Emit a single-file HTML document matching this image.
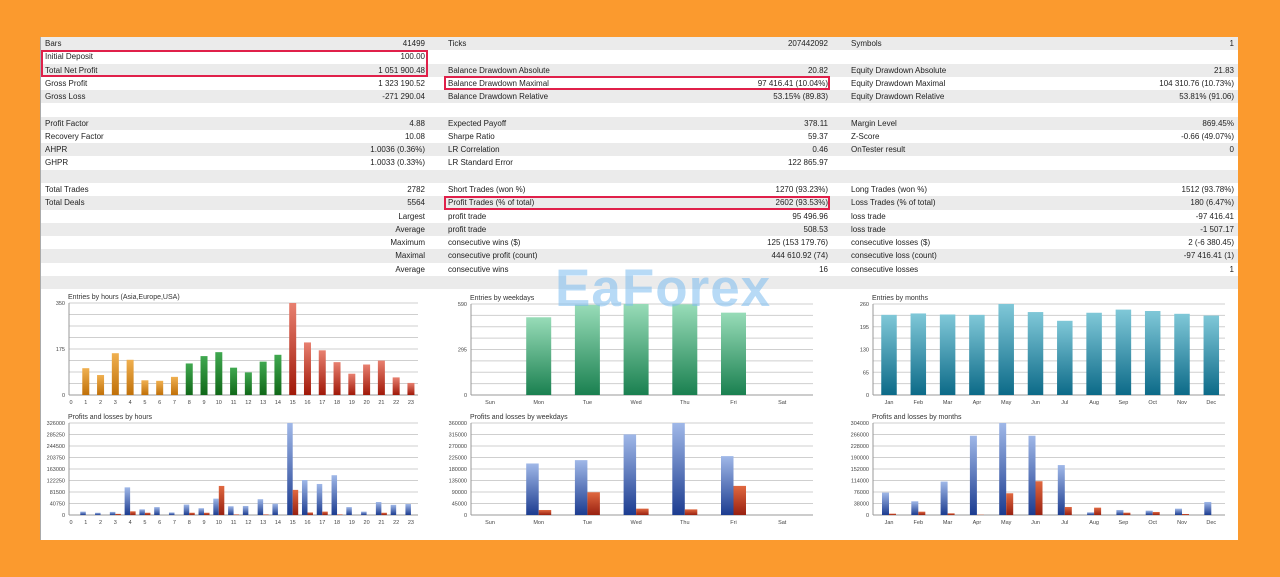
<!DOCTYPE html>
<html><head><meta charset="utf-8"><style>
html,body{margin:0;padding:0}
body{width:1280px;height:577px;background:#fb9a2e;position:relative;overflow:hidden;font-family:"Liberation Sans",sans-serif}
#panel{position:absolute;left:40px;top:37px;width:1197px;height:503px;background:#fff;border-left:1px solid #aaa}
.row{position:absolute;left:0;width:1197px;height:13.27px;font-size:8px;color:#222}
.row.g{background:#ebebeb}
.c{position:absolute;top:2px;white-space:nowrap}
.box{position:absolute;border:2px solid #e0204a;box-sizing:border-box}
svg text{font-family:"Liberation Sans",sans-serif}
#wm{position:absolute;left:555px;top:258px;font-size:53px;font-weight:bold;color:#7dbdf0;opacity:.55;letter-spacing:1px}
</style></head><body>
<div id="panel"></div>
<svg id="charts" width="1280" height="577" style="position:absolute;left:0;top:0"></svg>
<div id="wm">EaForex</div>
<script>
const rows=[
["Bars","41499","Ticks","207442092","Symbols","1"],
["Initial Deposit","100.00","","","",""],
["Total Net Profit","1 051 900.48","Balance Drawdown Absolute","20.82","Equity Drawdown Absolute","21.83"],
["Gross Profit","1 323 190.52","Balance Drawdown Maximal","97 416.41 (10.04%)","Equity Drawdown Maximal","104 310.76 (10.73%)"],
["Gross Loss","-271 290.04","Balance Drawdown Relative","53.15% (89.83)","Equity Drawdown Relative","53.81% (91.06)"],
["","","","","",""],
["Profit Factor","4.88","Expected Payoff","378.11","Margin Level","869.45%"],
["Recovery Factor","10.08","Sharpe Ratio","59.37","Z-Score","-0.66 (49.07%)"],
["AHPR","1.0036 (0.36%)","LR Correlation","0.46","OnTester result","0"],
["GHPR","1.0033 (0.33%)","LR Standard Error","122 865.97","",""],
["","","","","",""],
["Total Trades","2782","Short Trades (won %)","1270 (93.23%)","Long Trades (won %)","1512 (93.78%)"],
["Total Deals","5564","Profit Trades (% of total)","2602 (93.53%)","Loss Trades (% of total)","180 (6.47%)"],
["","Largest","profit trade","95 496.96","loss trade","-97 416.41"],
["","Average","profit trade","508.53","loss trade","-1 507.17"],
["","Maximum","consecutive wins ($)","125 (153 179.76)","consecutive losses ($)","2 (-6 380.45)"],
["","Maximal","consecutive profit (count)","444 610.92 (74)","consecutive loss (count)","-97 416.41 (1)"],
["","Average","consecutive wins","16","consecutive losses","1"],
["","","","","",""]];
const panel=document.getElementById('panel');
rows.forEach((r,i)=>{
 const d=document.createElement('div');
 d.className='row'+(i%2==0?' g':'');
 d.style.top=(i*13.27)+'px';
 
 
 const pos=[[4,'l'],[384,'r'],[407,'l'],[787,'r'],[810,'l'],[1193,'r']];
 r.forEach((t,j)=>{ if(!t)return; const s=document.createElement('span'); s.className='c'; s.textContent=t;
  if(pos[j][1]=='l') s.style.left=pos[j][0]+'px'; else s.style.right=(1197-pos[j][0])+'px';
  
  
  d.appendChild(s);});
 panel.appendChild(d);
});
[[0,13,387,27],[403,39,386,14],[403,159,386,14]].forEach(b=>{const e=document.createElement('div');e.className='box';
 e.style.left=b[0]+'px';e.style.top=b[1]+'px';e.style.width=b[2]+'px';e.style.height=b[3]+'px';
 
 
 panel.appendChild(e);});

// ---- chart data ----
const hourCats=["0","1","2","3","4","5","6","7","8","9","10","11","12","13","14","15","16","17","18","19","20","21","22","23"];
const hourEntries=[0,102,76,159,134,56,54,69,120,148,163,104,86,127,153,350,200,170,125,81,116,131,67,46];
const hourTicks=[0,175,350];
const hourProfit=[0,12000,8000,11000,98000,20000,28000,9000,37000,24000,58000,31000,32000,56000,40000,326000,124000,110000,141000,28000,12000,46000,36000,39000];
const hourLoss=[0,0,0,4000,13000,8000,0,0,8000,8000,103000,2000,0,2000,0,89000,9000,12000,2000,0,0,8000,0,0];
const hourPLTicks=[0,40750,81500,122250,163000,203750,244500,285250,326000];
const dayCats=["Sun","Mon","Tue","Wed","Thu","Fri","Sat"];
const dayEntries=[0,504,585,590,588,534,0];
const dayTicks=[0,295,590];
const dayProfit=[0,201600,214700,315500,360000,230400,0];
const dayLoss=[0,19600,89000,24900,22000,113900,0];
const dayPLTicks=[0,45000,90000,135000,180000,225000,270000,315000,360000];
const monCats=["Jan","Feb","Mar","Apr","May","Jun","Jul","Aug","Sep","Oct","Nov","Dec"];
const monEntries=[229,233,230,229,260,237,212,235,244,240,232,227];
const monTicks=[0,65,130,195,260];
const monProfit=[74000,45300,110500,262000,304000,262000,165000,8800,16600,14400,21000,43100];
const monLoss=[4400,11000,5500,1000,71800,111600,26500,24300,7700,10000,3300,0];
const monPLTicks=[0,38000,76000,114000,152000,190000,228000,266000,304000];

const svg=document.getElementById('charts');
const NS='http://www.w3.org/2000/svg';
function el(tag,at,txt){const e=document.createElementNS(NS,tag);for(const k in at)e.setAttribute(k,at[k]);if(txt!==undefined)e.textContent=txt;svg.appendChild(e);return e;}
let gid=0;
function grad(c1,c2){const id='g'+(gid++);const d=el('linearGradient',{id:id,x1:0,y1:0,x2:0,y2:1});
 const a=document.createElementNS(NS,'stop');a.setAttribute('offset','0');a.setAttribute('stop-color',c1);d.appendChild(a);
 const b=document.createElementNS(NS,'stop');b.setAttribute('offset','1');b.setAttribute('stop-color',c2);d.appendChild(b);return 'url(#'+id+')';}
const G={orange:grad('#f0b050','#c07008'),green:grad('#40a850','#106818'),red:grad('#e88070','#a01808'),
 teal:grad('#80c8d8','#0c6a88'),mint:grad('#98dcb8','#1a8050'),blue:grad('#a0b8e8','#1c3c90'),dred:grad('#e06840','#982010')};

function axes(o,title,ticks){
 const t=el('text',{x:o.ax-1,y:o.top-4,'font-size':7,fill:'#333'},title);
 
 
 const mx=ticks[ticks.length-1];
 for(let k=0;k<=8;k++){const y=o.base-(o.base-o.top)*k/8;
  const l=el('line',{x1:o.ax,x2:o.right,y1:y,y2:y,stroke:'#cfcfcf','stroke-width':1});
  
  }
 ticks.forEach(v=>{const y=o.base-(o.base-o.top)*v/mx;
  const tt=el('text',{x:o.ax-4,y:y+2,'font-size':5.5,fill:'#444','text-anchor':'end'},String(v));
  
  });
 el('line',{x1:o.ax,x2:o.ax,y1:o.top,y2:o.base,stroke:'#999'});
 el('line',{x1:o.ax,x2:o.right,y1:o.base,y2:o.base,stroke:'#999'});
 o.cats.forEach((c,i)=>{const tt=el('text',{x:o.x0+i*o.step,y:o.base+9,'font-size':5.5,fill:'#444','text-anchor':'middle'},c);
  
  });
 return mx;
}
function single(o,title,vals,ticks,colorFn){
 const mx=axes(o,title,ticks);
 vals.forEach((v,i)=>{if(!v)return;const h=(o.base-o.top)*v/mx;
  const r=el('rect',{x:o.x0+i*o.step-o.bw/2,y:o.base-h,width:o.bw,height:h,fill:colorFn(i)});
  
  });
}
function pair(o,title,p,l,ticks){
 const mx=axes(o,title,ticks);
 p.forEach((v,i)=>{const cx=o.x0+i*o.step;
  if(v){const h=(o.base-o.top)*v/mx;const r=el('rect',{x:cx-o.bw,y:o.base-h,width:o.bw,height:h,fill:G.blue});
   
   }
  if(l[i]){const h=(o.base-o.top)*l[i]/mx;const r=el('rect',{x:cx,y:o.base-h,width:o.bw,height:h,fill:G.dred});
   
   }
 });
}
const L={ax:69,right:418,x0:71,step:14.78,cats:hourCats};
single(Object.assign({},L,{top:303,base:395,bw:7}),'Entries by hours (Asia,Europe,USA)',hourEntries,hourTicks,i=>i<8?G.orange:(i<15?G.green:G.red));
pair(Object.assign({},L,{top:423,base:515,bw:5.5}),'Profits and losses by hours',hourProfit,hourLoss,hourPLTicks);
const W={ax:471,right:813,x0:490,step:48.7,cats:dayCats};
single(Object.assign({},W,{top:304,base:395,bw:25}),'Entries by weekdays',dayEntries,dayTicks,i=>G.mint);
pair(Object.assign({},W,{top:423,base:515,bw:12.5}),'Profits and losses by weekdays',dayProfit,dayLoss,dayPLTicks);
const M={ax:873,right:1225,x0:889,step:29.3,cats:monCats};
single(Object.assign({},M,{top:304,base:395,bw:15.5}),'Entries by months',monEntries,monTicks,i=>G.teal);
pair(Object.assign({},M,{top:423,base:515,bw:7}),'Profits and losses by months',monProfit,monLoss,monPLTicks);
</script>
</body></html>
